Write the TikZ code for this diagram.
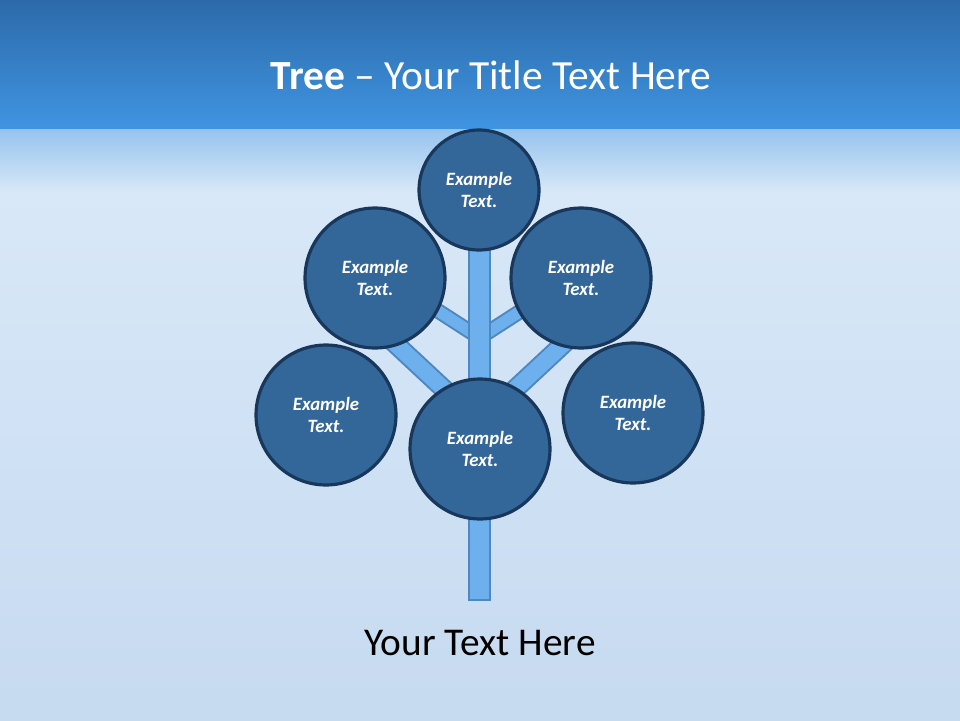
\documentclass[tikz,border=0pt]{standalone}
\usepackage{fontspec}
\setmainfont{Carlito}
\usepackage{tikz}
\definecolor{bandtop}{HTML}{2C6AAA}
\definecolor{bandbot}{HTML}{3F94E1}
\definecolor{groundtop}{HTML}{D8E8F8}
\definecolor{groundbot}{HTML}{C6DAF0}
\definecolor{leaf}{HTML}{336699}
\definecolor{leafedge}{HTML}{18375A}
\definecolor{wood}{HTML}{6EB0EE}
\definecolor{woodedge}{HTML}{4F87C0}
\tikzstyle{leafbig}=[circle, draw=leafedge, line width=1.8pt, fill=leaf, minimum size=2.8cm, inner sep=0pt, align=center, text=white, font=\fontsize{10.7}{13}\selectfont\bfseries\itshape]
\tikzstyle{leafsmall}=[leafbig, minimum size=2.4cm]
\tikzstyle{branchedge}=[line width=11.5pt, color=woodedge]
\tikzstyle{branchfill}=[line width=9.2pt, color=wood]
\tikzstyle{twigedge}=[line width=8.8pt, color=woodedge]
\tikzstyle{twigfill}=[line width=6.5pt, color=wood]

\begin{document}
\begin{tikzpicture}[x=0.02cm, y=-0.02cm]
\useasboundingbox (0,0) rectangle (960,720);
\shade[top color=groundtop, bottom color=groundbot] (0,190) rectangle (960,720);
\shade[top color=bandbot!45!groundtop, bottom color=groundtop] (0,127) rectangle (960,192);
\shade[top color=bandtop, bottom color=bandbot] (0,0) rectangle (960,128);

\node[text=white, font=\fontsize{23.6}{28}\selectfont] (title) at (491,75) {\textbf{Tree} -- Your Title Text Here};

\coordinate (twigL) at (418,298);
\coordinate (twigLj) at (480,338);
\coordinate (twigR) at (541,298);
\coordinate (twigRj) at (479,338);
\coordinate (branchL) at (372,322);
\coordinate (branchLj) at (476,419);
\coordinate (branchR) at (587,322);
\coordinate (branchRj) at (483,419);

\draw[twigedge] (twigL)--(twigLj);
\draw[twigfill] (twigL)--(twigLj);
\draw[twigedge] (twigR)--(twigRj);
\draw[twigfill] (twigR)--(twigRj);
\draw[branchedge] (branchL)--(branchLj);
\draw[branchfill] (branchL)--(branchLj);
\draw[branchedge] (branchR)--(branchRj);
\draw[branchfill] (branchR)--(branchRj);

\draw[woodedge, fill=wood, line width=1.5pt] (469,240) rectangle (490,600);

\node[leafsmall] (top) at (479,190) {Example\\Text.};
\node[leafbig] (upleft) at (375,278) {Example\\Text.};
\node[leafbig] (upright) at (581,278) {Example\\Text.};
\node[leafbig] (left) at (326,415) {Example\\Text.};
\node[leafbig] (right) at (633,413) {Example\\Text.};
\node[leafbig] (centre) at (480,449) {Example\\Text.};

\node[font=\fontsize{22.4}{26}\selectfont] (caption) at (480,643) {Your Text Here};
\end{tikzpicture}
\end{document}
